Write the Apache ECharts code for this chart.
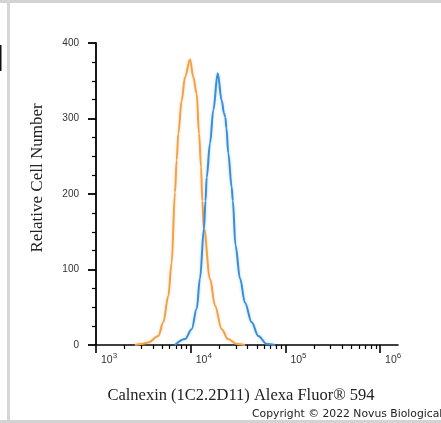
<!DOCTYPE html>
<html>
<head>
<meta charset="utf-8">
<script src="https://cdn.jsdelivr.net/npm/echarts@6/dist/echarts.min.js"></script>
<style>
html,body{margin:0;padding:0;background:#fff;}
#chart{width:441px;height:423px;}
</style>
</head>
<body>
<div id="chart"></div>
<script>
// ---- data ----
const orangeX = [2580, 3040, 3565, 4548, 5140, 5800, 6295, 6820, 7115, 7396, 8035, 8707, 9840, 10650, 11560, 12250, 12860, 13250, 13800, 15990, 18060, 21240, 24770, 30620, 37440];
const orangeY = [0, 1.3, 3.3, 12, 30, 65, 109, 202, 245, 280, 324, 355, 378, 355, 333, 280, 236, 191, 154, 88, 52, 21, 8, 1.3, 0];
const blueX = [6820, 8710, 10250, 11570, 12530, 13800, 14330, 14750, 15990, 17330, 19290, 21240, 22480, 23190, 23850, 24930, 27100, 27830, 29710, 33180, 37440, 44030, 51740, 63500, 77600];
const blueY = [0, 8, 21, 48, 88, 154, 191, 222, 267, 311, 360, 324, 307, 302, 287, 254, 209, 191, 132, 88, 56, 30, 12, 1.3, 0];
const xMajorTicks = [1e3, 1e4, 1e5, 1e6];
const xMinorTicks = [2e3,3e3,4e3,5e3,6e3,7e3,8e3,9e3, 2e4,3e4,4e4,5e4,6e4,7e4,8e4,9e4, 2e5,3e5,4e5,5e5,6e5,7e5,8e5,9e5];
const yTicks = [0, 100, 200, 300, 400];
const xTitle = 'Calnexin (1C2.2D11) Alexa Fluor® 594';
const yTitle = 'Relative Cell Number';
const copyright = 'Copyright © 2022 Novus Biologicals';

const xMin = 1000, xMax = 1545000;
const orangeColor = '#F2A146';
const blueColor = '#3A8ED6';

const pair = (xs, ys) => xs.map((x, i) => [x, ys[i]]);

const chart = echarts.init(document.getElementById('chart'), null, {renderer: 'canvas'});
chart.setOption({
  backgroundColor: '#ffffff',
  animation: false,
  grid: {left: 96, right: 43, top: 43, bottom: 78, containLabel: false},
  xAxis: [{
    type: 'log', logBase: 10, min: xMin, max: xMax,
    name: xTitle, nameLocation: 'middle', nameGap: 42,
    nameTextStyle: {fontFamily: 'Liberation Serif', fontSize: 16.5, color: '#222', padding: [0, 12, 0, 0]},
    axisLine: {show: true, lineStyle: {color: '#000', width: 1.6}},
    axisTick: {show: true, inside: false, length: 8, lineStyle: {color: '#000', width: 1.6}, customValues: xMajorTicks},
    axisLabel: {
      show: true, margin: 7, customValues: xMajorTicks, align: 'left', padding: [0, 0, 0, 5],
      formatter: v => '{b|10}{s|' + Math.round(Math.log10(v)) + '}',
      rich: {
        b: {fontFamily: 'Liberation Sans', fontSize: 10.5, color: '#333'},
        s: {fontFamily: 'Liberation Sans', fontSize: 8, color: '#333', padding: [0, 0, 8, 0]}
      }
    },
    splitLine: {show: false}
  }, {
    type: 'log', logBase: 10, min: xMin, max: xMax, position: 'bottom',
    axisLine: {show: false},
    axisTick: {show: true, inside: false, length: 4, lineStyle: {color: '#000', width: 1.2}, customValues: xMinorTicks},
    axisLabel: {show: false},
    splitLine: {show: false}
  }],
  yAxis: {
    type: 'value', min: 0, max: 400, interval: 100,
    name: yTitle, nameLocation: 'middle', nameGap: 50, nameRotate: 90,
    nameTextStyle: {fontFamily: 'Liberation Serif', fontSize: 17, color: '#222', padding: [0, 0, 0, 32]},
    axisLine: {show: true, lineStyle: {color: '#000', width: 1.8}},
    axisTick: {show: true, inside: false, length: 8, lineStyle: {color: '#000', width: 1.8}},
    minorTick: {show: true, splitNumber: 4, length: 4, lineStyle: {color: '#000', width: 1.2}},
    axisLabel: {show: true, margin: 17, fontFamily: 'Liberation Sans', fontSize: 10, color: '#333',
      customValues: yTicks},
    splitLine: {show: false}
  },
  series: [{
    type: 'line', name: 'orange', xAxisIndex: 0, data: pair(orangeX, orangeY),
    showSymbol: false, smooth: 0.35, smoothMonotone: 'x',
    lineStyle: {color: orangeColor, width: 2, shadowColor: 'rgba(242,161,70,0.35)', shadowBlur: 3}
  }, {
    type: 'line', name: 'blue', xAxisIndex: 0, data: pair(blueX, blueY),
    showSymbol: false, smooth: 0.35, smoothMonotone: 'x',
    lineStyle: {color: blueColor, width: 2, shadowColor: 'rgba(58,142,214,0.35)', shadowBlur: 3}
  }],
  graphic: [
    {type: 'rect', shape: {x: 0, y: 0, width: 441, height: 3}, style: {fill: '#d3d3d3'}, silent: true},
    {type: 'rect', shape: {x: 7, y: 0, width: 3, height: 423}, style: {fill: '#d6d6d6'}, silent: true},
    {type: 'rect', shape: {x: 0, y: 420, width: 441, height: 3}, style: {fill: '#d3d3d3'}, silent: true},
    {type: 'rect', shape: {x: 0, y: 45, width: 1.5, height: 26}, style: {fill: '#111'}, silent: true},
    {type: 'text', left: 252, top: 409, style: {text: copyright, fontFamily: 'DejaVu Sans', fontSize: 10.8, fill: '#222'}, silent: true}
  ]
});
</script>
</body>
</html>
